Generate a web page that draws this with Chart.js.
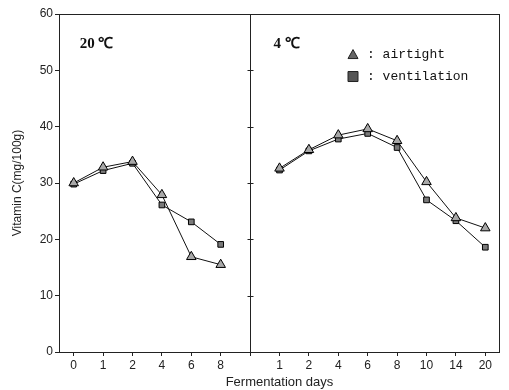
<!DOCTYPE html>
<html>
<head>
<meta charset="utf-8">
<script src="https://cdn.jsdelivr.net/npm/chart.js@4"></script>
<style>
  html, body { margin: 0; padding: 0; background: #fff; }
  #wrap { width: 509px; height: 390px; }
</style>
</head>
<body>
<div id="wrap"><canvas id="vitc"></canvas></div>
<script>
// Fermentation days for each storage temperature
const daysWarm = ['0', '1', '2', '4', '6', '8'];
const daysCold = ['1', '2', '4', '6', '8', '10', '14', '20'];

// Vitamin C (mg/100g)
const warmAirtight = [30.0, 32.8, 33.8, 27.9, 16.9, 15.5];
const warmVent     = [29.8, 32.2, 33.5, 26.1, 23.1, 19.1];
const coldAirtight = [32.6, 35.9, 38.5, 39.6, 37.5, 30.2, 23.8, 22.0];
const coldVent     = [32.3, 35.7, 37.8, 38.8, 36.3, 27.0, 23.3, 18.6];

const yTicks = [0, 10, 20, 30, 40, 50, 60];

// both panels share one x scale; the 20 C panel comes first, then a divider
const warmStart = 0.5, divider = 6.5, coldStart = 7.5, xEnd = 15;

const warmPos = daysWarm.map((d, i) => warmStart + i);
const coldPos = daysCold.map((d, i) => coldStart + i);
const tickLabel = {};
warmPos.forEach((p, i) => tickLabel[p] = daysWarm[i]);
coldPos.forEach((p, i) => tickLabel[p] = daysCold[i]);
tickLabel[divider] = '';

const toPoints = (pos, vals) => vals.map((v, i) => ({ x: pos[i], y: v }));

const triFill = '#a8a8a8', sqFill = '#7a7a7a';

function series(pos, vals, airtight) {
    return {
        data: toPoints(pos, vals),
        borderColor: '#111',
        borderWidth: 1,
        pointStyle: airtight ? 'triangle' : 'rect',
        pointRadius: airtight ? 5.5 : 4,
        pointBackgroundColor: airtight ? triFill : sqFill,
        pointBorderColor: '#000',
        pointBorderWidth: 1,
        tension: 0
    };
}

const panelDecor = {
    id: 'panelDecor',
    afterDraw(chart) {
        const { ctx, chartArea: a, scales: { x, y } } = chart;
        ctx.save();
        ctx.strokeStyle = '#222';
        ctx.lineWidth = 1;
        ctx.strokeRect(a.left + 0.5, a.top + 0.5, a.right - a.left - 1, a.bottom - a.top);

        // divider between the two temperatures, with small y ticks on it
        const dx = Math.round(x.getPixelForValue(divider)) + 0.5;
        ctx.beginPath();
        ctx.moveTo(dx, a.top);
        ctx.lineTo(dx, a.bottom);
        yTicks.forEach(v => {
            const py = Math.round(y.getPixelForValue(v)) + 0.5;
            ctx.moveTo(dx - 3, py);
            ctx.lineTo(dx + 3, py);
        });
        ctx.stroke();

        // panel titles
        ctx.fillStyle = '#111';
        ctx.textBaseline = 'middle';
        ctx.font = 'bold 15px "Liberation Serif", serif';
        ctx.fillText('20 \u2103', x.getPixelForValue(warmStart) + 6, y.getPixelForValue(54.7));
        ctx.fillText('4 \u2103', x.getPixelForValue(coldStart) - 6, y.getPixelForValue(54.7));

        // legend
        const lx = x.getPixelForValue(coldStart + 2.5);
        const rows = [
            { y: 52.8, tri: true, label: 'airtight' },
            { y: 48.9, tri: false, label: 'ventilation' }
        ];
        ctx.font = '13px "Liberation Mono", monospace';
        rows.forEach(r => {
            const py = y.getPixelForValue(r.y);
            ctx.beginPath();
            if (r.tri) {
                ctx.moveTo(lx, py - 5);
                ctx.lineTo(lx + 5, py + 4);
                ctx.lineTo(lx - 5, py + 4);
                ctx.closePath();
                ctx.fillStyle = '#666';
            } else {
                ctx.rect(lx - 5, py - 5, 10, 10);
                ctx.fillStyle = '#555';
            }
            ctx.fill();
            ctx.stroke();
            ctx.fillStyle = '#111';
            ctx.fillText(': ' + r.label, lx + 14, py);
        });
        ctx.restore();
    }
};

new Chart(document.getElementById('vitc'), {
    type: 'line',
    data: {
        datasets: [
            series(warmPos, warmAirtight, true),
            series(warmPos, warmVent, false),
            series(coldPos, coldAirtight, true),
            series(coldPos, coldVent, false)
        ]
    },
    options: {
        responsive: true,
        maintainAspectRatio: false,
        animation: false,
        layout: { padding: { top: 14, right: 9, left: 0, bottom: 0 } },
        plugins: { legend: { display: false }, tooltip: { enabled: false } },
        scales: {
            x: {
                type: 'linear',
                min: 0,
                max: xEnd,
                afterBuildTicks: s => { s.ticks = Object.keys(tickLabel).map(v => ({ value: +v })); },
                afterFit: s => { s.height = 38; },
                ticks: {
                    autoSkip: false,
                    maxRotation: 0,
                    padding: 2,
                    color: '#222',
                    font: { family: '"Liberation Sans", Arial, sans-serif', size: 12 },
                    callback: v => tickLabel[v] ?? ''
                },
                grid: { drawOnChartArea: false, tickLength: 4, color: '#222' },
                border: { display: false },
                title: {
                    display: true,
                    text: 'Fermentation days',
                    color: '#222',
                    padding: { top: 0, bottom: 0 },
                    font: { family: '"Liberation Sans", Arial, sans-serif', size: 13 }
                }
            },
            y: {
                min: 0,
                max: 60,
                afterBuildTicks: s => { s.ticks = yTicks.map(v => ({ value: v })); },
                afterFit: s => { s.width = 59; },
                ticks: {
                    padding: 2,
                    color: '#222',
                    font: { family: '"Liberation Sans", Arial, sans-serif', size: 12 }
                },
                grid: { drawOnChartArea: false, tickLength: 4, color: '#222' },
                border: { display: false },
                title: {
                    display: true,
                    text: 'Vitamin C(mg/100g)',
                    color: '#222',
                    padding: { top: 10, bottom: 4 },
                    font: { family: '"Liberation Sans", Arial, sans-serif', size: 12 }
                }
            }
        }
    },
    plugins: [panelDecor]
});
</script>
</body>
</html>
